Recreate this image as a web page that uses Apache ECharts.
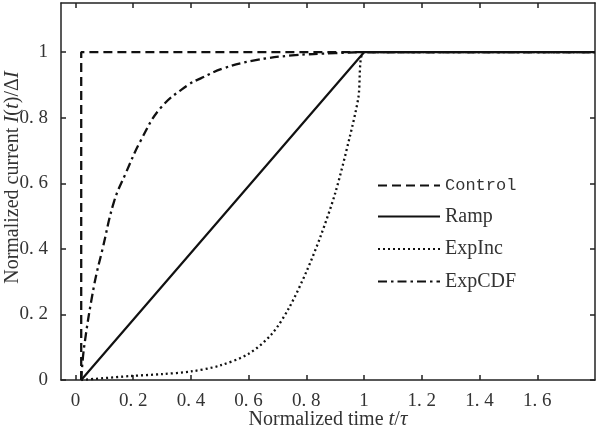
<!DOCTYPE html>
<html><head><meta charset="utf-8">
<script src="https://cdn.jsdelivr.net/npm/echarts@6/dist/echarts.min.js"></script>
<style>html,body{margin:0;padding:0;background:#fff}#c{width:600px;height:429px}</style>
</head><body><div id="c"></div>
<script>
const xTicks = [0, 0.2, 0.4, 0.6, 0.8, 1, 1.2, 1.4, 1.6];
const yTicks = [0, 0.2, 0.4, 0.6, 0.8, 1];
const controlData = [[0.02, 0], [0.02, 1], [1.8, 1]];
const rampData = [[0.02, 0], [1, 1], [1.8, 1]];
const expIncData = [[0.02, 0], [0.19, 0.012], [0.3, 0.018], [0.4, 0.026], [0.5, 0.044], [0.6, 0.08], [0.68, 0.14], [0.74, 0.22], [0.8, 0.33], [0.85, 0.44], [0.9, 0.57], [0.95, 0.74], [0.98, 0.86], [1, 1], [1.8, 1]];
const expCdfData = [[0.02, 0], [0.03, 0.1], [0.065, 0.29], [0.094, 0.4], [0.134, 0.545], [0.174, 0.63], [0.226, 0.73], [0.295, 0.83], [0.39, 0.9], [0.434, 0.92], [0.51, 0.95], [0.62, 0.975], [0.75, 0.99], [0.9, 0.997], [1, 1], [1.8, 1]];
const fmt = v => (v === 0 ? '0' : v === 1 ? '1' : String(Math.round(v * 10) / 10).replace('.', '. '));
const serif = 'Liberation Serif';
const axisLine = { show: true, onZero: false, lineStyle: { color: '#222', width: 1.5 } };
const tickStyle = { inside: true, length: 5, lineStyle: { color: '#222', width: 1.5 } };
const nameRich = { n: { fontFamily: serif, fontSize: 20, color: '#333' }, i: { fontFamily: serif, fontStyle: 'italic', fontSize: 21, color: '#333' } };
const chart = echarts.init(document.getElementById('c'));
chart.setOption({
  animation: false,
  backgroundColor: '#fff',
  grid: { left: 61, right: 5, top: 3, bottom: 49, outerBoundsMode: 'none' },
  legend: {
    left: 372, top: 172, orient: 'vertical', itemWidth: 62, itemHeight: 14, itemGap: 12.5,
    itemStyle: { opacity: 0 },
    data: ['Control', 'Ramp', 'ExpInc', 'ExpCDF'],
    formatter: n => n === 'Control' ? '{m|Control}' : '{s|' + n + '}',
    textStyle: { rich: { m: { fontFamily: 'Liberation Mono', fontSize: 17, lineHeight: 20, color: '#333' }, s: { fontFamily: serif, fontSize: 20, lineHeight: 20, color: '#333' } } }
  },
  xAxis: [{
    type: 'value', min: -0.05, max: 1.8, position: 'bottom',
    axisLine, axisTick: Object.assign({ customValues: xTicks }, tickStyle),
    axisLabel: { customValues: xTicks, formatter: fmt, fontFamily: serif, fontSize: 19, color: '#333', margin: 12 },
    splitLine: { show: false },
    name: '{n|Normalized time }{i|t}{n|/}{i|τ}', nameLocation: 'middle', nameGap: 29, nameMoveOverlap: false,
    nameTextStyle: { rich: nameRich }
  }, {
    type: 'value', min: -0.05, max: 1.8, position: 'top',
    axisLine, axisTick: Object.assign({ customValues: xTicks }, tickStyle),
    axisLabel: { show: false }, splitLine: { show: false }
  }],
  yAxis: [{
    type: 'value', min: 0, max: 1.15, position: 'left',
    axisLine, axisTick: Object.assign({ customValues: yTicks }, tickStyle),
    axisLabel: { customValues: yTicks, formatter: fmt, fontFamily: serif, fontSize: 19, color: '#333', margin: 13 },
    splitLine: { show: false },
    name: '{n|Normalized current }{i|I}{n|(}{i|t}{n|)/Δ}{i|I}', nameLocation: 'middle', nameGap: 38, nameMoveOverlap: false,
    nameTextStyle: { rich: nameRich, padding: [0, 0, 0, 28] }
  }, {
    type: 'value', min: 0, max: 1.15, position: 'right',
    axisLine, axisTick: Object.assign({ customValues: yTicks }, tickStyle),
    axisLabel: { show: false }, splitLine: { show: false }
  }],
  series: [
    { name: 'Control', type: 'line', data: controlData, symbol: 'none', z: 2,
      lineStyle: { color: '#111', width: 2.3, type: [9, 5] }, itemStyle: { color: '#111' } },
    { name: 'ExpInc', type: 'line', data: expIncData, symbol: 'none', smooth: 0.3, z: 3,
      lineStyle: { color: '#111', width: 2.3, type: [2, 3] }, itemStyle: { color: '#111' } },
    { name: 'ExpCDF', type: 'line', data: expCdfData, symbol: 'none', smooth: 0.4, z: 3,
      lineStyle: { color: '#111', width: 2.3, type: [9, 4, 2.5, 4] }, itemStyle: { color: '#111' } },
    { name: 'Ramp', type: 'line', data: rampData, symbol: 'none', z: 4,
      lineStyle: { color: '#111', width: 2.2, type: 'solid' }, itemStyle: { color: '#111' } }
  ]
});
</script></body></html>
